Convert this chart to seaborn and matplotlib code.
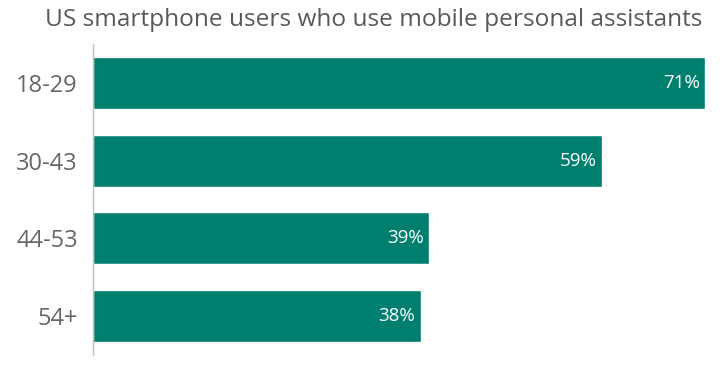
import matplotlib
matplotlib.use('Agg')
import matplotlib.pyplot as plt
import pandas as pd
import seaborn as sns

# data
age_groups = ['18-29', '30-43', '44-53', '54+']
share_pct = [71, 59, 39, 38]
title = 'US smartphone users who use mobile personal assistants'

df = pd.DataFrame({'Age': age_groups, 'Share': share_pct})

sns.set_style('white')
plt.rcParams['font.family'] = ['Open Sans', 'DejaVu Sans']

fig = plt.figure(figsize=(7.25, 3.67), dpi=100)
ax = fig.add_axes([93 / 725, 12 / 367, (705 - 93) / 725, 311 / 367])

bar_color = '#007f6e'
sns.barplot(data=df, x='Share', y='Age', orient='h', color=bar_color,
            saturation=1, width=0.67, ax=ax)

ax.set_xlim(0, 71)
ax.set_ylim(3.5, -0.5)
ax.set_xlabel('')
ax.set_ylabel('')
ax.set_xticks([])
ax.tick_params(axis='y', length=0, pad=11, labelsize=17, labelcolor='#666666')

for side in ['top', 'right', 'bottom']:
    ax.spines[side].set_visible(False)
ax.spines['left'].set_color('#bfbfbf')
ax.spines['left'].set_linewidth(1)

# value labels inside the bar ends
for i, v in enumerate(share_pct):
    ax.text(v - 0.6, i, f'{v}%', ha='right', va='center', color='white',
            fontsize=13.5)

fig.text(374 / 725, 1 - 20 / 367, title, ha='center', va='center',
         fontsize=17.6, color='#595959')

plt.savefig('out.png', dpi=100)
